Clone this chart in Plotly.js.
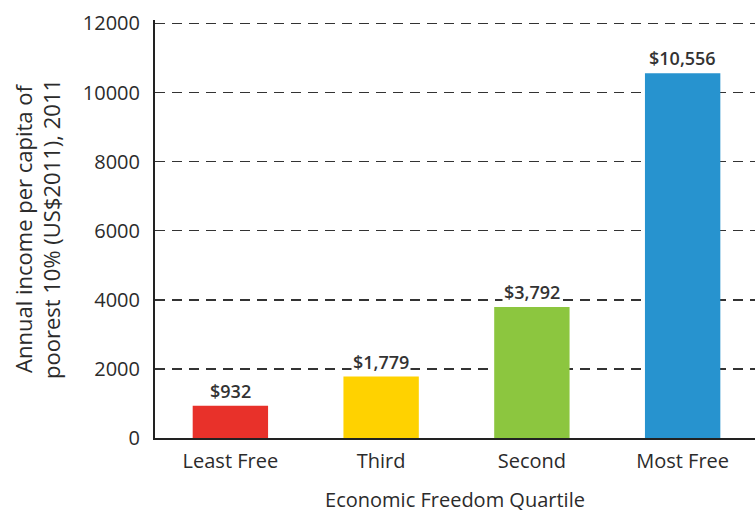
<!DOCTYPE html>
<html>
<head>
<meta charset="utf-8">
<script src="https://cdn.plot.ly/plotly-3.0.1.min.js"></script>
<style>html,body{margin:0;padding:0;overflow:hidden;background:#fff}#chart{width:755px;height:515px}</style>
</head>
<body>
<div id="chart"></div>
<script>
const categories = ["Least Free", "Third", "Second", "Most Free"];
const incomes = [932, 1779, 3792, 10556];
const valueLabels = ["$932", "$1,779", "$3,792", "$10,556"];
const barColors = ["#E8312A", "#FFD200", "#8CC63F", "#2793CF"];
const yTicks = [0, 2000, 4000, 6000, 8000, 10000, 12000];

const fontFam = "'Open Sans', 'Noto Sans', sans-serif";

const trace = {
  type: "bar",
  x: categories,
  y: incomes,
  width: 0.5,
  marker: {color: barColors, line: {width: 0}},
  hoverinfo: "none"
};

const annotations = categories.map((c, i) => ({
  x: c, y: incomes[i], xref: "x", yref: "y",
  text: valueLabels[i], showarrow: false,
  yanchor: "bottom", yshift: 1,
  bgcolor: "#ffffff", borderpad: 1,
  font: {family: fontFam, size: 18, color: "#333333", weight: 600}
}));

const layout = {
  width: 755, height: 515,
  margin: {l: 155, r: 0, t: 20, b: 77},
  paper_bgcolor: "#fff", plot_bgcolor: "#fff",
  showlegend: false,
  xaxis: {
    type: "category",
    range: [-0.5, 3.48],
    automargin: true,
    showgrid: false, zeroline: false,
    showline: true, linecolor: "#222", linewidth: 2,
    ticks: "", ticklabelstandoff: 4,
    tickfont: {family: fontFam, size: 20, color: "#2b2b2b"},
    title: {text: "Economic Freedom Quartile", font: {family: fontFam, size: 20, color: "#2b2b2b"}, standoff: 20}
  },
  yaxis: {
    range: [0, 12100],
    tickvals: yTicks,
    ticktext: yTicks.map(String),
    showgrid: true, gridcolor: "#333", gridwidth: 1.5, griddash: "10px,7px",
    zeroline: false,
    showline: true, linecolor: "#222", linewidth: 2,
    ticks: "", ticklabelstandoff: 9,
    tickfont: {family: fontFam, size: 20, color: "#2b2b2b"},
    title: {text: "Annual income per capita of<br>poorest 10% (US$2011), 2011", font: {family: fontFam, size: 22, color: "#2b2b2b"}, standoff: 16}
  },
  annotations: annotations
};

Plotly.newPlot("chart", [trace], layout, {staticPlot: true, displayModeBar: false});
</script>
</body>
</html>
